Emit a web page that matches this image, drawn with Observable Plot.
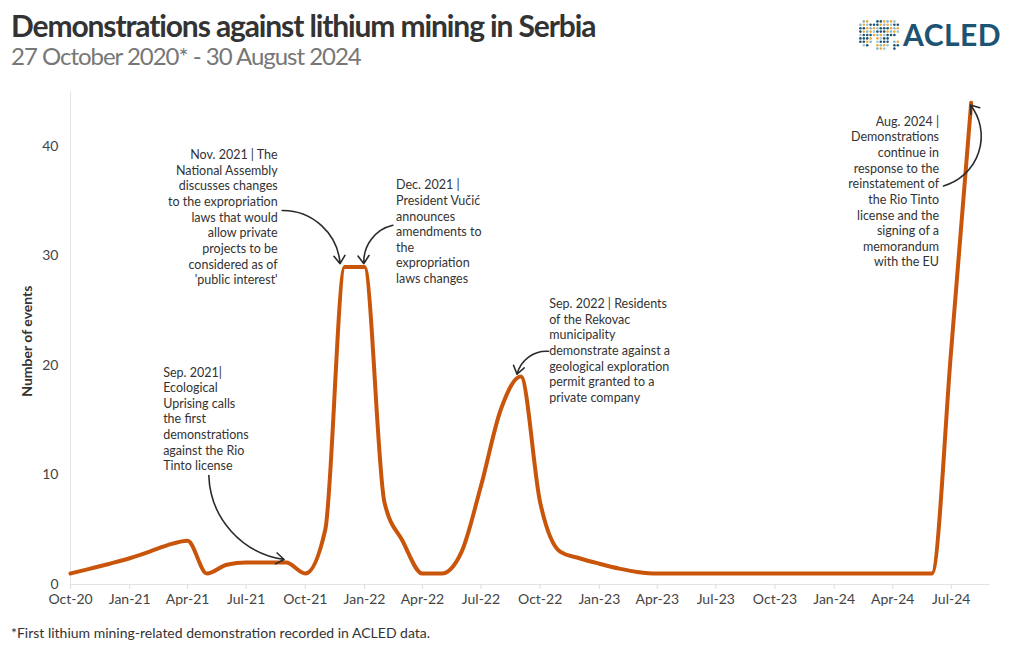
<!DOCTYPE html>
<html><head><meta charset="utf-8">
<script src="https://cdn.jsdelivr.net/npm/d3@7"></script>
<script src="https://cdn.jsdelivr.net/npm/@observablehq/plot@0.6"></script>
<style>
body{margin:0;background:#fff;font-family:Lato,sans-serif;width:1020px;overflow:hidden}
#header{position:relative;height:80px;}
#title{position:absolute;left:11px;top:10px;font-size:30px;line-height:1;font-weight:700;color:#333;letter-spacing:-1.12px;white-space:nowrap}
#subtitle{position:absolute;left:11px;top:45.6px;font-size:24px;line-height:0.8;font-weight:400;color:#777;letter-spacing:-1.02px;white-space:nowrap}
#logo{position:absolute;left:855px;top:16px;}
#acled{position:absolute;left:903px;top:19px;font-size:30px;line-height:1;font-weight:700;color:#1d5373;letter-spacing:0.5px}
#chart svg{display:block}
#caption{margin-top:6px;padding-left:11px;font-size:14px;line-height:1;color:#333}
</style></head>
<body>
<div id="header">
  <div id="title">Demonstrations against lithium mining in Serbia</div>
  <div id="subtitle">27 October 2020* - 30 August 2024</div>
  <svg id="logo" width="46" height="38"></svg>
  <div id="acled">ACLED</div>
</div>
<div id="chart"></div>
<div id="caption">*First lithium mining-related demonstration recorded in ACLED data.</div>
<script>
// ---- data ----
const months = [
  "2020-10","2020-11","2020-12",
  "2021-01","2021-02","2021-03","2021-04","2021-05","2021-06","2021-07","2021-08","2021-09","2021-10","2021-11","2021-12",
  "2022-01","2022-02","2022-03","2022-04","2022-05","2022-06","2022-07","2022-08","2022-09","2022-10","2022-11","2022-12",
  "2023-01","2023-02","2023-03","2023-04","2023-05","2023-06","2023-07","2023-08","2023-09","2023-10","2023-11","2023-12",
  "2024-01","2024-02","2024-03","2024-04","2024-05","2024-06","2024-07","2024-08"
];
const events = [
  1,1.45,1.9,
  2.4,3.0,3.6,4,1,1.8,2,2,2,1,5,29,
  29,7.5,4,1,1,3,9,16,19,7.5,3,2.4,
  1.9,1.45,1.15,1,1,1,1,1,1,1,1,1,
  1,1,1,1,1,1,21.5,44
];
const xTicks = ["2020-10-01","2021-01-01","2021-04-01","2021-07-01","2021-10-01","2022-01-01","2022-04-01","2022-07-01",
  "2022-10-01","2023-01-01","2023-04-01","2023-07-01","2023-10-01","2024-01-01","2024-04-01","2024-07-01"];
const yTicks = [0,10,20,30,40];
const xDomain = ["2020-10-01","2024-08-31"];
const yDomain = [0,45];
const yLabel = "Number of events";

// annotations (anchor date / value, text)
const notesLeft = [
  {date:"2021-02-22", value:20.0, text:"Sep. 2021|\nEcological\nUprising calls\nthe first\ndemonstrations\nagainst the Rio\nTinto license"},
  {date:"2022-02-19", value:37.1, text:"Dec. 2021 |\nPresident Vučić\nannounces\namendments to\nthe\nexpropriation\nlaws changes"},
  {date:"2022-10-15", value:26.25, text:"Sep. 2022 | Residents\nof the Rekovac\nmunicipality\ndemonstrate against a\ngeological exploration\npermit granted to a\nprivate company"}
];
const notesRight = [
  {date:"2021-08-19", value:39.85, text:"Nov. 2021 | The\nNational Assembly\ndiscusses changes\nto the expropriation\nlaws that would\nallow private\nprojects to be\nconsidered as of\n'public interest'"},
  {date:"2024-06-12", value:42.9, text:"Aug. 2024 |\nDemonstrations\ncontinue in\nresponse to the\nreinstatement of\nthe Rio Tinto\nlicense and the\nsigning of a\nmemorandum\nwith the EU"}
];
const arrows = [
  {d1:"2021-05-04", v1:9.95, d2:"2021-08-29", v2:2.28},
  {d1:"2021-08-26", v1:34.15, d2:"2021-11-24", v2:29.3},
  {d1:"2022-02-14", v1:32.8, d2:"2021-12-31", v2:29.3},
  {d1:"2022-10-14", v1:21.3, d2:"2022-08-26", v2:19.2},
  {d1:"2024-06-19", v1:36.4, d2:"2024-07-31", v2:43.8}
];
const arrowBend = [-40, 43, -40, -40, -56];

// ---- build ----
const pm = d3.utcParse("%Y-%m");
const pd = d3.utcParse("%Y-%m-%d");
const series = months.map((m,i)=>({date:pm(m), value:events[i]}));
const nl = notesLeft.map(d=>({...d, date:pd(d.date)}));
const nr = notesRight.map(d=>({...d, date:pd(d.date)}));
const ar = arrows.map(d=>({x1:pd(d.d1), y1:d.v1, x2:pd(d.d2), y2:d.v2}));

const lineColor = "#c8550a";
const textColor = "#333";

const chart = Plot.plot({
  width:1020, height:540,
  marginLeft:70, marginRight:30, marginTop:11.25, marginBottom:36,
  style:{fontFamily:"Lato, sans-serif", fontSize:"14px", background:"#fff"},
  x:{type:"utc", domain:xDomain.map(pd)},
  y:{domain:yDomain},
  marks:[
    Plot.ruleX([pd(xDomain[0])], {stroke:"#e6e6e6", strokeWidth:1}),
    Plot.ruleY([0], {stroke:"#e3e3e3", strokeWidth:1}),
    Plot.axisX({ticks:xTicks.map(pd), tickFormat:d3.utcFormat("%b-%y"), tickSize:5, tickPadding:5, stroke:"#dddddd", fill:"#444", fontSize:14, label:null}),
    Plot.axisY({ticks:yTicks, tickSize:0, tickPadding:12, fill:"#444", fontSize:14, label:null}),
    Plot.text([yLabel], {frameAnchor:"left", dx:-43, dy:3, rotate:-90, textAnchor:"middle", lineAnchor:"middle", text:d=>d, fontWeight:700, fontSize:14, fill:textColor}),
    Plot.line(series, {x:"date", y:"value", curve:"monotone-x", stroke:lineColor, strokeWidth:4, strokeLinejoin:"round", strokeLinecap:"round"}),
    ...ar.map((a,i)=>Plot.arrow([a], {x1:"x1", y1:"y1", x2:"x2", y2:"y2", bend:arrowBend[i], stroke:"#2b2b2b", strokeWidth:1.6, headLength:9, headAngle:70})),
    Plot.text(nl, {x:"date", y:"value", text:"text", textAnchor:"start", lineAnchor:"top", lineHeight:1.25, fontSize:12.5, fill:textColor}),
    Plot.text(nr, {x:"date", y:"value", text:"text", textAnchor:"end", lineAnchor:"top", lineHeight:1.25, fontSize:12.5, fill:textColor})
  ]
});
document.getElementById("chart").appendChild(chart);

// ---- decorative logo globe ----
(function(){
  const svg = d3.select("#logo");
  const pal = ["#1d5373","#f2a93b","#1d5373","#7fb8c9","#1d5373","#f2a93b","#9cc6d3"];
  const blobs = [[10,17,8,13],[30,13,15,10],[27,27,7,9],[41,29,4,4]];
  let k=0;
  for(let y=2;y<38;y+=3.4){
    for(let x=2;x<46;x+=3.4){
      const inside = blobs.some(([cx,cy,rx,ry])=>((x-cx)/rx)**2+((y-cy)/ry)**2<=1);
      if(inside){ svg.append("circle").attr("cx",x).attr("cy",y).attr("r",1.3).attr("fill",pal[(k*5+Math.floor(y))%pal.length]); }
      k++;
    }
  }
})();
</script>
</body></html>
